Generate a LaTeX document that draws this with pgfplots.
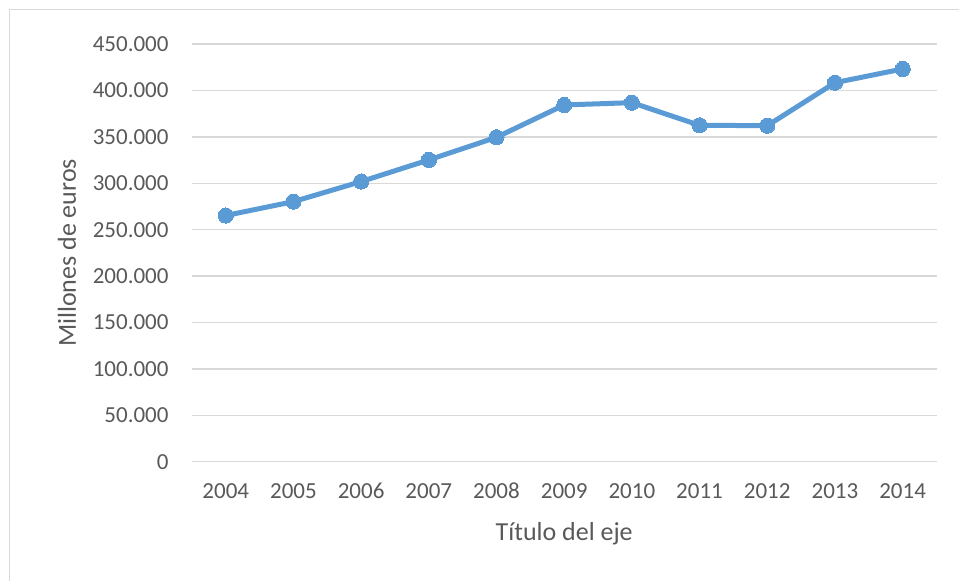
\documentclass[border=0pt]{standalone}
\usepackage{fontspec}
\setmainfont{Carlito}
\usepackage{pgfplots}
\pgfplotsset{compat=1.18}

\definecolor{serie}{HTML}{5B9BD5}
\definecolor{rejilla}{HTML}{D9D9D9}
\definecolor{texto}{HTML}{595959}

\begin{document}
\begin{tikzpicture}
% 1 px of the reference = 0.5pt
\path (0,0) rectangle (479.5pt,290.5pt);
\draw[rejilla, line width=0.5pt] (5pt,0) -- (5pt,285.5pt) -- (479.5pt,285.5pt);
\begin{axis}[
    at={(96pt,59.5pt)}, anchor=south west,
    scale only axis,
    width=372.5pt, height=209pt,
    xmin=2003.5, xmax=2014.5,
    ymin=0, ymax=450000,
    xtick={2004,...,2014},
    ytick={0,50000,...,450000},
    axis line style={draw=none},
    major tick length=0pt,
    ymajorgrids,
    grid style={rejilla, line width=0.7pt},
    scaled y ticks=false,
    /pgf/number format/assume math mode=true,
    yticklabel style={/pgf/number format/1000 sep={.}, /pgf/number format/fixed},
    xticklabel style={/pgf/number format/1000 sep={}},
    tick label style={font=\fontsize{11.5}{13}\selectfont, text=texto},
    yticklabel style={anchor=east, inner sep=0pt, xshift=-11.5pt},
    xticklabel style={anchor=base, inner sep=0pt, yshift=-18.5pt},
    xlabel={Título del eje},
    ylabel={Millones de euros},
    label style={font=\fontsize{13}{15}\selectfont, text=texto},
    xlabel style={at={(axis description cs:0.5,0)}, anchor=base, inner sep=0pt, yshift=-39.5pt},
    ylabel style={at={(axis description cs:0,0.5)}, anchor=center, yshift=62.5pt},
    clip=false,
]
\addplot[serie, line width=2.5pt, line join=round, mark=*, mark size=3.8pt,
    mark options={fill=serie, draw=serie, line width=0pt}]
coordinates {
(2004,265200) (2005,280200) (2006,301800) (2007,325100) (2008,349500)
(2009,384300) (2010,386800) (2011,362400) (2012,362000) (2013,408300)
(2014,423100)
};
\end{axis}
\end{tikzpicture}
\end{document}
